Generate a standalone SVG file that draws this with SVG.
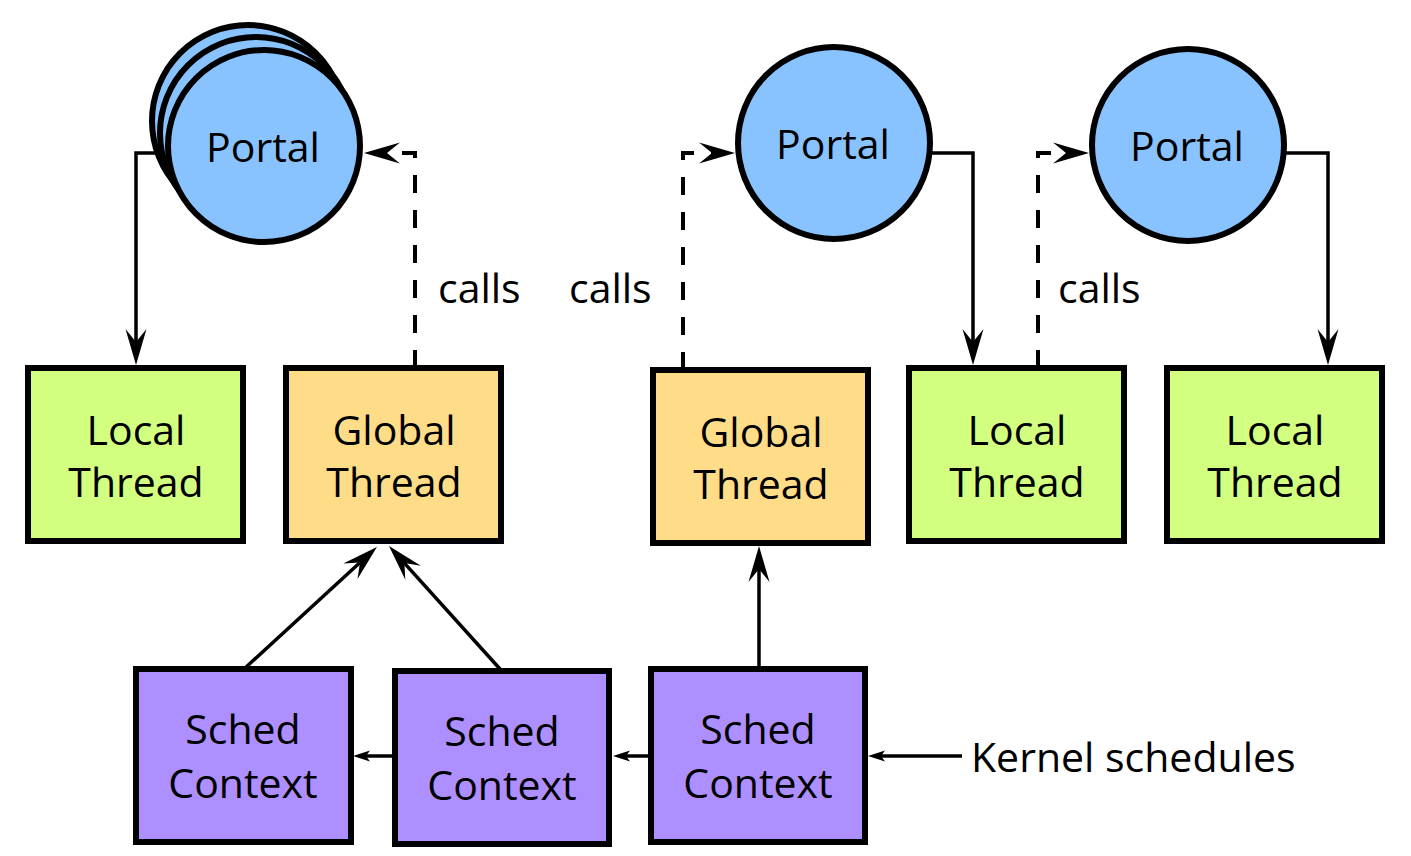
<svg xmlns="http://www.w3.org/2000/svg" width="1411" height="856" viewBox="0 0 1411 856">
<style>
  .box { stroke: #000; stroke-width: 6; }
  .local { fill: #d2ff80; }
  .global { fill: #ffdd88; }
  .sched { fill: #ae8fff; }
  .portal { fill: #88c3ff; stroke: #000; stroke-width: 6; }
  .lbl { font-family: "Open Sans", "Noto Sans", "Liberation Sans", sans-serif; font-size: 41px; fill: #000; text-anchor: middle; }
  .free { font-family: "Open Sans", "Noto Sans", "Liberation Sans", sans-serif; font-size: 41px; fill: #000; }
  .conn { fill: none; stroke: #000; stroke-width: 3.5; }
  .dash { stroke-width: 4; stroke-dasharray: 18 17; }
</style>
<defs>
  <marker id="big" markerUnits="userSpaceOnUse" viewBox="-14 -12 38 24" markerWidth="38" markerHeight="24" refX="0" refY="0" orient="auto">
    <path d="M23,0 L-13,-10.5 L0,0 L-13,10.5 Z" fill="#000"/>
  </marker>
  <marker id="small" markerUnits="userSpaceOnUse" viewBox="-5 -7 20 14" markerWidth="20" markerHeight="14" refX="0" refY="0" orient="auto">
    <path d="M13,0 L-4,-5.5 L0,0 L-4,5.5 Z" fill="#000"/>
  </marker>
</defs>
<rect width="1411" height="856" fill="#fff"/>

<g id="portal1">
  <circle class="portal" cx="248" cy="121" r="96"/>
  <circle class="portal" cx="256" cy="133" r="96"/>
  <circle class="portal" cx="264" cy="146" r="96"/>
  <text class="lbl" x="263" y="162">Portal</text>
</g>
<g id="portal2">
  <circle class="portal" cx="834" cy="143" r="96"/>
  <text class="lbl" x="833" y="159">Portal</text>
</g>
<g id="portal3">
  <circle class="portal" cx="1188" cy="145" r="96"/>
  <text class="lbl" x="1187" y="161">Portal</text>
</g>

<g id="local1">
  <rect class="box local" x="28" y="368" width="215" height="173"/>
  <text class="lbl" x="136" y="445">Local</text>
  <text class="lbl" x="136" y="497">Thread</text>
</g>
<g id="global1">
  <rect class="box global" x="286" y="368" width="215" height="173"/>
  <text class="lbl" x="394" y="445">Global</text>
  <text class="lbl" x="394" y="497">Thread</text>
</g>
<g id="global2">
  <rect class="box global" x="653" y="370" width="215" height="173"/>
  <text class="lbl" x="761" y="447">Global</text>
  <text class="lbl" x="761" y="499">Thread</text>
</g>
<g id="local2">
  <rect class="box local" x="909" y="368" width="215" height="173"/>
  <text class="lbl" x="1017" y="445">Local</text>
  <text class="lbl" x="1017" y="497">Thread</text>
</g>
<g id="local3">
  <rect class="box local" x="1167" y="368" width="215" height="173"/>
  <text class="lbl" x="1275" y="445">Local</text>
  <text class="lbl" x="1275" y="497">Thread</text>
</g>

<g id="sched1">
  <rect class="box sched" x="136" y="669" width="215" height="173"/>
  <text class="lbl" x="243" y="744">Sched</text>
  <text class="lbl" x="243" y="798">Context</text>
</g>
<g id="sched2">
  <rect class="box sched" x="395" y="671" width="214" height="173"/>
  <text class="lbl" x="502" y="746">Sched</text>
  <text class="lbl" x="502" y="800">Context</text>
</g>
<g id="sched3">
  <rect class="box sched" x="651" y="669" width="214" height="173"/>
  <text class="lbl" x="758" y="744">Sched</text>
  <text class="lbl" x="758" y="798">Context</text>
</g>

<g id="connectors">
  <path class="conn" d="M159,153 H136 V342" marker-end="url(#big)"/>
  <path class="conn dash" d="M415,368 V153 H387" marker-end="url(#big)"/>
  <path class="conn dash" d="M683,370 V153 H712" marker-end="url(#big)"/>
  <path class="conn" d="M931,153 H973 V342" marker-end="url(#big)"/>
  <path class="conn dash" d="M1038,368 V153 H1066" marker-end="url(#big)"/>
  <path class="conn" d="M1285,153 H1328 V342" marker-end="url(#big)"/>
  <path class="conn" d="M244,669 L360,562.5" marker-end="url(#big)"/>
  <path class="conn" d="M500,669 L404.4,563.1" marker-end="url(#big)"/>
  <path class="conn" d="M759,669 V569" marker-end="url(#big)"/>
  <path class="conn" d="M395,756 H366" marker-end="url(#small)"/>
  <path class="conn" d="M651,756 H626" marker-end="url(#small)"/>
  <path class="conn" d="M962,756 H881" marker-end="url(#small)"/>
</g>

<g id="labels">
  <text class="free" x="438" y="303">calls</text>
  <text class="free" x="569" y="303">calls</text>
  <text class="free" x="1058" y="303">calls</text>
  <text class="free" x="971" y="772">Kernel schedules</text>
</g>
</svg>
